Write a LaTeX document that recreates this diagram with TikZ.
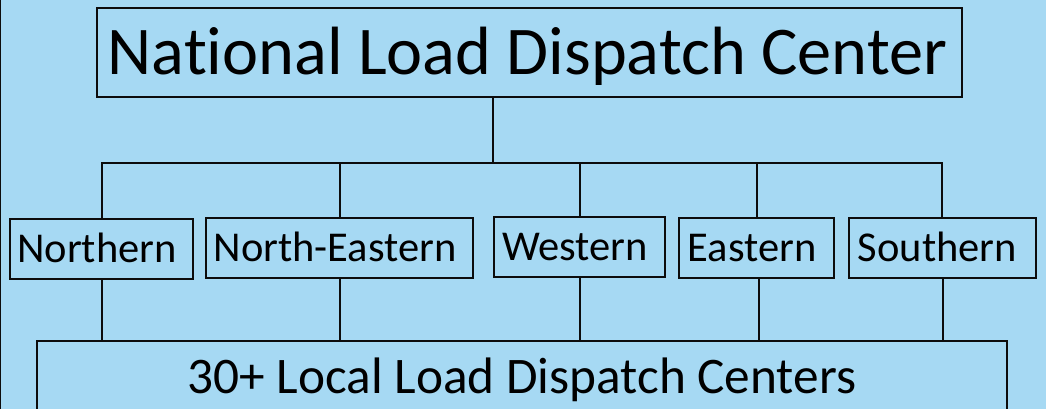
\documentclass[tikz,border=0pt]{standalone}
\usepackage{fontspec}
\setmainfont{Carlito}[Ligatures=NoCommon]
\definecolor{panel}{RGB}{166,217,243}
\definecolor{ink}{RGB}{12,12,12}
\begin{document}
\begin{tikzpicture}[x=1pt,y=-1pt,
  box/.style={draw=ink,line width=2pt,inner sep=0pt,text depth=0pt,anchor=center},
  region/.style={box,font=\fontsize{42.5}{50}\selectfont,text height=27.2pt,minimum height=60pt,
    execute at end node=\hspace*{9pt}},
  link/.style={draw=ink,line width=2pt}]
  % page and panel
  \useasboundingbox (0,0) rectangle (1046,409);
  \clip (0,0) rectangle (1046,409);
  \fill[panel] (0,0) rectangle (1046,409);
  \draw[ink,line width=1.2pt] (0.6,0) -- (0.6,409);

  % national centre
  \node[box,line width=2.5pt,font=\fontsize{68.3}{80}\selectfont,text height=43.8pt,
        minimum width=865pt,minimum height=89pt,execute at end node=\hspace*{4pt}]
        (ncc) at (529.5,52.5) {National Load Dispatch Center};

  % regional centres
  \node[region,minimum width=183pt] (north) at (101.5,248.5) {Northern};
  \node[region,minimum width=267pt] (neast) at (339.5,248) {North-Eastern};
  \node[region,minimum width=171pt,minimum height=59.5pt] (west) at (579.5,246.8) {Western};
  \node[region,minimum width=155pt] (east) at (756.5,248) {Eastern};
  \node[region,minimum width=187pt] (south) at (942,248) {Southern};

  % local centres (runs past the lower edge)
  \node[box,font=\fontsize{51.3}{60}\selectfont,text height=33pt,
        minimum width=970pt,minimum height=72pt] (local) at (522,377) {30+ Local Load Dispatch Centers};

  % bus under the national centre
  \coordinate (bus) at (492.7,162.5);
  \coordinate (busL) at (101.5,162.5);
  \coordinate (busR) at (942,162.5);
  \draw[link] (ncc.south -| bus) -- (bus);
  \draw[link,line cap=rect] (busL) -- (busR);

  % drops to the regional centres
  \foreach \n in {north,neast,west,east,south}{
    \draw[link] (\n.north) -- (\n.north |- bus);
  }

  % links down to the local centres
  \draw[link] (north.south) -- (north.south |- local.north);
  \draw[link] (neast.south) -- (neast.south |- local.north);
  \draw[link] (west.south) -- (west.south |- local.north);
  \draw[link] ([xshift=2.5pt]east.south) -- ([xshift=2.5pt]east.south |- local.north);
  \draw[link] ([xshift=1pt]south.south) -- ([xshift=1pt]south.south |- local.north);
\end{tikzpicture}
\end{document}
